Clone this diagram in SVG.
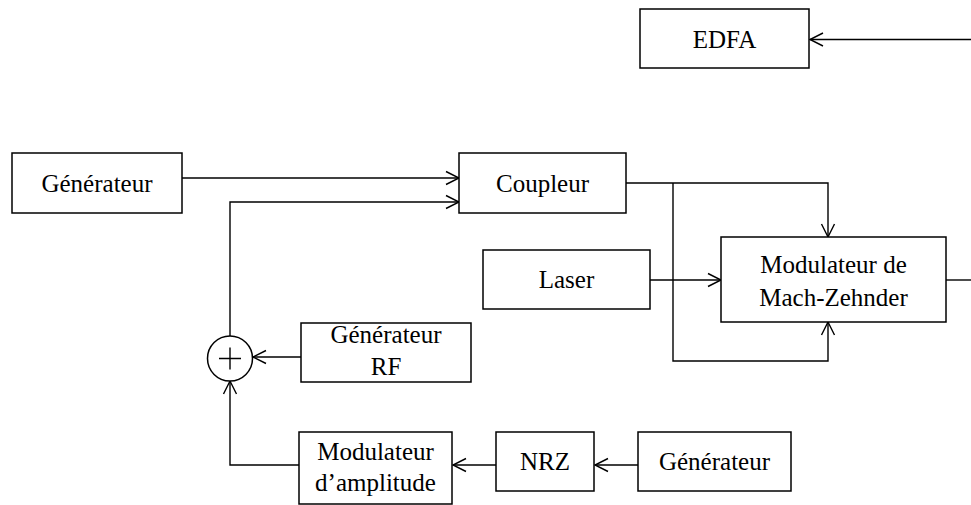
<svg xmlns="http://www.w3.org/2000/svg" width="971" height="505" viewBox="0 0 971 505">
<style>
.box{fill:#fff;stroke:#000;stroke-width:1.5}
.ln{fill:none;stroke:#000;stroke-width:1.4}
.ar{marker-end:url(#arr)}
.t{font-family:'Liberation Serif','DejaVu Serif',serif;font-size:25px;fill:#000;text-anchor:middle}
</style>
<defs>
<marker id="arr" markerUnits="userSpaceOnUse" markerWidth="16" markerHeight="16" viewBox="-14 -8 16 16" refX="0" refY="0" orient="auto">
<path d="M-13,-6.5 L0,0 L-13,6.5" fill="none" stroke="#000" stroke-width="1.4"/>
</marker>
</defs>
<rect width="971" height="505" fill="#fff"/>
<g id="connectors">
<path class="ln ar" d="M971,39.5 L810,39.5"/>
<path class="ln ar" d="M182,178 L459,178"/>
<path class="ln ar" d="M230,336 L230,202 L459,202"/>
<path class="ln ar" d="M626,183 L828,183 L828,237"/>
<path class="ln ar" d="M673,183 L673,361 L828,361 L828,322"/>
<path class="ln ar" d="M650,280 L721,280"/>
<path class="ln" d="M946,280 L971,280"/>
<path class="ln ar" d="M301,357 L253,357"/>
<path class="ln ar" d="M299,465 L230,465 L230,381"/>
<path class="ln ar" d="M496,465 L453,465"/>
<path class="ln ar" d="M638,465 L595,465"/>
</g>
<g id="edfa"><rect class="box" x="640" y="9" width="169" height="59"/><text class="t" x="724.5" y="48">EDFA</text></g>
<g id="generateur1"><rect class="box" x="12" y="153" width="170" height="60"/><text class="t" x="97" y="192">Générateur</text></g>
<g id="coupleur"><rect class="box" x="459" y="153" width="167" height="60"/><text class="t" x="542.5" y="192">Coupleur</text></g>
<g id="laser"><rect class="box" x="483" y="250" width="167" height="59"/><text class="t" x="566.5" y="288">Laser</text></g>
<g id="mz"><rect class="box" x="721" y="237" width="225" height="85"/><text class="t" x="833.5" y="273">Modulateur de</text><text class="t" x="833.5" y="306">Mach-Zehnder</text></g>
<g id="somme"><circle class="box" cx="230" cy="358.5" r="22.5"/><path class="ln" d="M219,358.5 L241,358.5 M230,347.5 L230,369.5"/></g>
<g id="generateurRF"><rect class="box" x="301" y="323" width="170" height="59"/><text class="t" x="386" y="343">Générateur</text><text class="t" x="386" y="375">RF</text></g>
<g id="modampl"><rect class="box" x="299" y="432" width="153" height="72"/><text class="t" x="375.5" y="460">Modulateur</text><text class="t" x="375.5" y="491">d’amplitude</text></g>
<g id="nrz"><rect class="box" x="496" y="432" width="98" height="59"/><text class="t" x="545" y="470">NRZ</text></g>
<g id="generateur2"><rect class="box" x="638" y="432" width="153" height="59"/><text class="t" x="714.5" y="470">Générateur</text></g>
</svg>
